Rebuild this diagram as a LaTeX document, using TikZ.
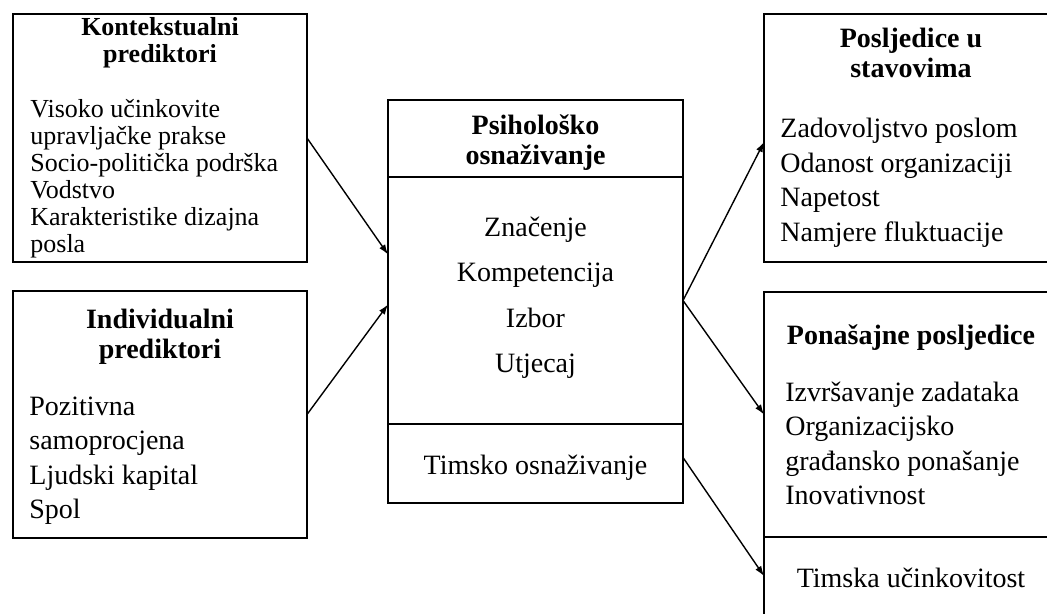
\documentclass[tikz,border=0pt]{standalone}
\usepackage{fontspec}
\setmainfont{Liberation Serif}
\usetikzlibrary{positioning, arrows.meta}

\begin{document}
\begin{tikzpicture}[x=0.5pt, y=-0.5pt,
  box/.style={draw, line width=0.9pt, outer sep=0pt, inner sep=0pt, minimum width=147pt},
  hdr/.style={font=\fontsize{14}{15}\selectfont\bfseries, align=flush center, inner sep=0pt,
              anchor=base, text width=145pt},
  mid/.style={font=\fontsize{14}{22.5}\selectfont, align=flush center, inner sep=0pt,
              anchor=base, text width=145pt},
  lst/.style={font=\fontsize{14}{17.25}\selectfont, align=flush left, inner sep=0pt,
              anchor=base west, text width=138pt},
  link/.style={-{Latex[length=5pt, width=3.5pt]}, line width=0.7pt}]

\clip (0,0) rectangle (1047,614);

% predictors (left)
\node[box, minimum height=124pt] (ctx) at (160,138) {};
\node[hdr, font=\fontsize{13}{13.5}\selectfont\bfseries] (ctxhdr) at ([yshift=-11pt]ctx.north)
  {Kontekstualni\\prediktori};
\node[lst, font=\fontsize{13}{13.5}\selectfont] (ctxlst) at ([xshift=8.5pt, yshift=-52pt]ctx.north west)
  {Visoko učinkovite\\upravljačke prakse\\Socio-politička podrška\\Vodstvo\\Karakteristike dizajna\\posla};

\node[box, minimum height=123.5pt] (ind) at (160,414.5) {};
\node[hdr] (indhdr) at ([yshift=-18.5pt]ind.north) {Individualni\\prediktori};
\node[lst] (indlst) at ([xshift=8pt, yshift=-62pt]ind.north west)
  {Pozitivna\\samoprocjena\\Ljudski kapital\\Spol};

% empowerment (centre)
\node[box, minimum width=147.5pt, minimum height=38.5pt] (ptitle) at (535.5,138.5) {};
\node[box, minimum width=147.5pt, minimum height=123.5pt, below=0pt of ptitle] (pbody) {};
\node[box, minimum width=147.5pt, minimum height=39.5pt, below=0pt of pbody] (pteam) {};
\node[hdr] (ptitlehdr) at ([yshift=-17.5pt]ptitle.north) {Psihološko\\osnaživanje};
\node[mid] (pbodytxt) at ([yshift=-30pt]pbody.north) {Značenje\\Kompetencija\\Izbor\\Utjecaj};
\node[mid] (pteamtxt) at ([yshift=-25pt]pteam.north) {Timsko osnaživanje};

% outcomes (right)
\node[box, minimum height=124pt] (att) at (911,138) {};
\node[hdr] (atthdr) at ([yshift=-17pt]att.north) {Posljedice u\\stavovima};
\node[lst] (attlst) at ([xshift=8pt, yshift=-62pt]att.north west)
  {Zadovoljstvo poslom\\Odanost organizaciji\\Napetost\\Namjere fluktuacije};

\node[box, minimum height=122.5pt] (beh) at (911,414.5) {};
\node[hdr] (behhdr) at ([yshift=-26pt]beh.north) {Ponašajne posljedice};
\node[lst] (behlst) at ([xshift=10.5pt, yshift=-54.5pt]beh.north west)
  {Izvršavanje zadataka\\Organizacijsko\\građansko ponašanje\\Inovativnost};
\node[box, minimum height=39pt, below=0pt of beh] (team) {};
\node[mid] (teamtxt) at ([yshift=-25pt]team.north) {Timska učinkovitost};

% links
\draw[link] (ctx.east) -- ([yshift=23pt]pbody.west);
\draw[link] (ind.east) -- ([yshift=-2pt]pbody.west);
\draw[link] (pbody.east) -- ([yshift=-2pt]att.west);
\draw[link] (pbody.east) -- (beh.west);
\draw[link] ([yshift=3pt]pteam.east) -- (team.west);
\end{tikzpicture}
\end{document}
